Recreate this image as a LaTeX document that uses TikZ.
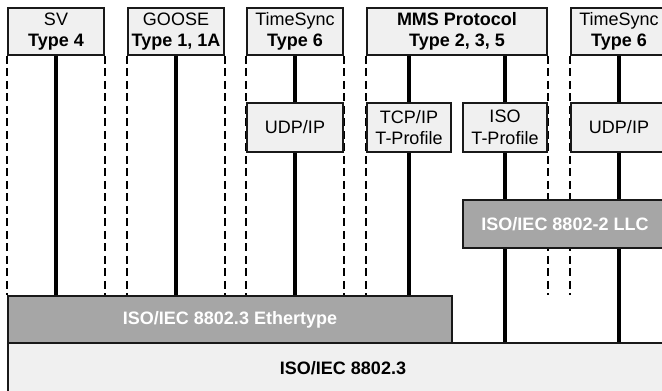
\documentclass[tikz,border=0pt]{standalone}
\usepackage{fontspec}
\setmainfont{Liberation Sans}
\usetikzlibrary{backgrounds}
\definecolor{lightbox}{HTML}{F0F0F0}
\definecolor{darkbox}{HTML}{A6A6A6}

\begin{document}
\begin{tikzpicture}[x=1pt,y=-1pt,
  box/.style={draw=black!90,line width=1.9pt,fill=lightbox,inner sep=0pt,align=center,minimum height=47pt,font=\fontsize{18}{21.5}\selectfont},
  graybox/.style={box,fill=darkbox,text=white,font=\fontsize{18}{21.5}\selectfont\bfseries},
  link/.style={line width=3.4pt},
  lane/.style={line width=1.9pt,dash pattern=on 8pt off 4.5pt}]
  \useasboundingbox (0,0) rectangle (662,391);
  \clip (0,0) rectangle (662,391);

  % application layer
  \node [box,minimum width=96pt] (sv) at (56,31.5) {SV\\\textbf{Type 4}};
  \node [box,minimum width=96pt] (goose) at (176,31.5) {GOOSE\\\textbf{Type 1, 1A}};
  \node [box,minimum width=96pt] (tsa) at (295,31.5) {TimeSync\\\textbf{Type 6}};
  \node [box,minimum width=180pt,font=\fontsize{18}{21.5}\selectfont\bfseries] (mms) at (457,31.5) {MMS Protocol\\Type 2, 3, 5};
  \node [box,minimum width=96pt] (tsb) at (619,31.5) {TimeSync\\\textbf{Type 6}};

  % transport profiles
  \node [box,minimum width=96pt,minimum height=49pt] (udpa) at (295,127.5) {UDP/IP};
  \node [box,minimum width=84pt,minimum height=49pt] (tcp) at (409,127.5) {TCP/IP\\T-Profile};
  \node [box,minimum width=84pt,minimum height=49pt] (iso) at (505,127.5) {ISO\\T-Profile};
  \node [box,minimum width=96pt,minimum height=49pt] (udpb) at (619,127.5) {UDP/IP};

  % link layer
  \node [graybox,minimum width=204pt,minimum height=48pt] (llc) at (565,224) {ISO/IEC 8802-2 LLC};
  \node [graybox,minimum width=444pt] (eth) at (230,319.5) {ISO/IEC 8802.3 Ethertype};
  \node [box,minimum width=670pt,minimum height=50pt,font=\fontsize{18}{21.5}\selectfont\bfseries] (base) at (343,368) {ISO/IEC 8802.3};

  \begin{scope}[on background layer]
    \draw [lane] (sv.south west) -- (sv.south west |- eth.north);
    \draw [lane] (sv.south east) -- (sv.south east |- eth.north);
    \draw [lane] (goose.south west) -- (goose.south west |- eth.north);
    \draw [lane] (goose.south east) -- (goose.south east |- eth.north);
    \draw [lane] (tsa.south west) -- (tsa.south west |- eth.north);
    \draw [lane] (tsa.south east) -- (tsa.south east |- eth.north);
    \draw [lane] (mms.south west) -- (mms.south west |- eth.north);
    \draw [lane] (mms.south east) -- (mms.south east |- eth.north);
    \draw [lane] (tsb.south west) -- (tsb.south west |- eth.north);

    \draw [link] (sv.south) -- (sv.south |- eth.north);
    \draw [link] (goose.south) -- (goose.south |- eth.north);
    \draw [link] (tsa.south) -- (udpa.north);
    \draw [link] (udpa.south) -- (udpa.south |- eth.north);
    \draw [link] (tcp.north |- mms.south) -- (tcp.north);
    \draw [link] (tcp.south) -- (tcp.south |- eth.north);
    \draw [link] (iso.north |- mms.south) -- (iso.north);
    \draw [link] (iso.south) -- (iso.south |- base.north);
    \draw [link] (tsb.south) -- (udpb.north);
    \draw [link] (udpb.south) -- (udpb.south |- base.north);
  \end{scope}

\end{tikzpicture}
\end{document}
